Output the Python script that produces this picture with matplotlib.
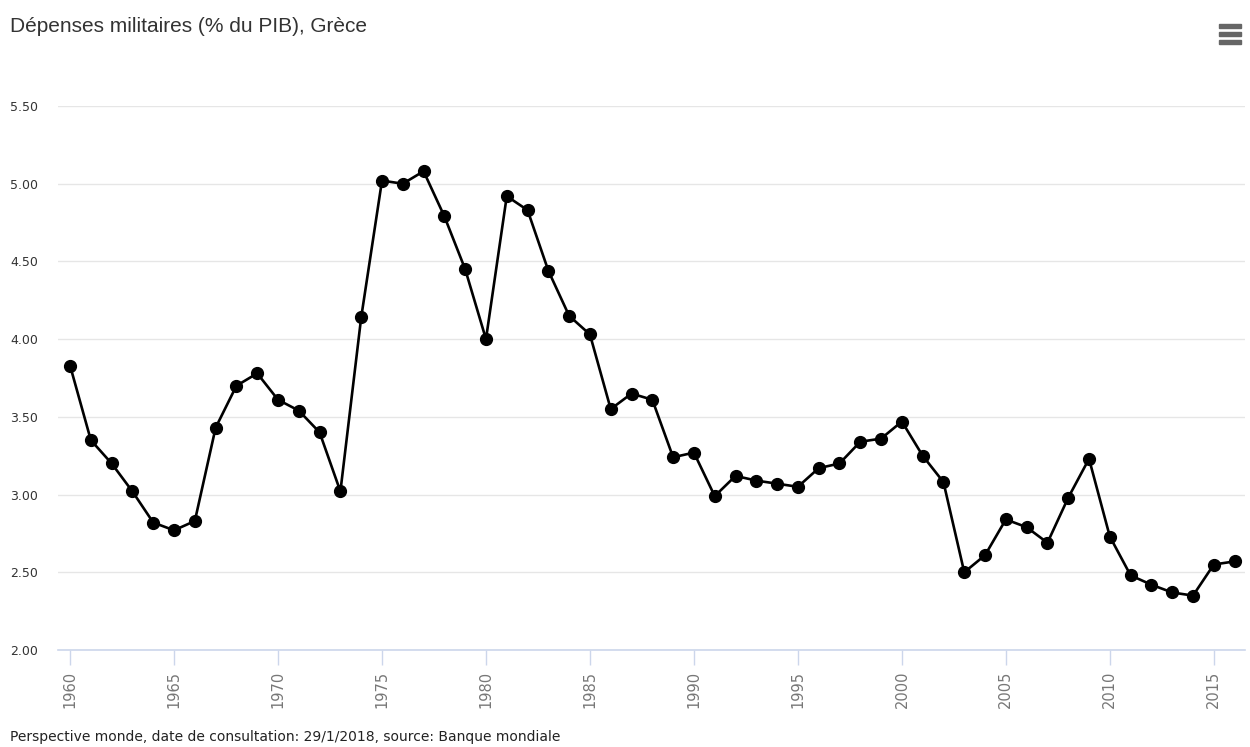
import matplotlib

matplotlib.use("Agg")
import matplotlib.pyplot as plt
from matplotlib.patches import Rectangle

# --- data ---
years = list(range(1960, 2017))
values = [
    3.83, 3.35, 3.20, 3.02, 2.82, 2.77, 2.83, 3.43, 3.70, 3.78,
    3.61, 3.54, 3.40, 3.02, 4.14, 5.02, 5.00, 5.08, 4.79, 4.45,
    4.00, 4.92, 4.83, 4.44, 4.15, 4.03, 3.55, 3.65, 3.61, 3.24,
    3.27, 2.99, 3.12, 3.09, 3.07, 3.05, 3.17, 3.20, 3.34, 3.36,
    3.47, 3.25, 3.08, 2.50, 2.61, 2.84, 2.79, 2.69, 2.98, 3.23,
    2.73, 2.48, 2.42, 2.37, 2.35, 2.55, 2.57,
]
y_ticks = [2.00, 2.50, 3.00, 3.50, 4.00, 4.50, 5.00, 5.50]
x_ticks = list(range(1960, 2016, 5))

TITLE = "Dépenses militaires (% du PIB), Grèce"
FOOTER = "Perspective monde, date de consultation: 29/1/2018, source: Banque mondiale"

W, H = 1250, 747
fig = plt.figure(figsize=(W / 100, H / 100), dpi=100)
ax = fig.add_axes([58 / W, 1 - 650 / H, (1245 - 58) / W, (650 - 106) / H])

ax.plot(years, values, color="black", lw=1.9, marker="o", ms=8.5,
        markerfacecolor="black", markeredgecolor="black", zorder=3)

ax.set_xlim(1959.42, 2016.5)
ax.set_ylim(2.0, 5.5)
ax.set_yticks(y_ticks)
ax.set_yticklabels([f"{v:.2f}" for v in y_ticks])
ax.set_xticks(x_ticks)
ax.set_xticklabels([str(v) for v in x_ticks], rotation=90, va="top")

ax.grid(axis="y", color="#e6e6e6", lw=1)
ax.set_axisbelow(True)
for side in ("top", "right", "left"):
    ax.spines[side].set_visible(False)
ax.spines["bottom"].set_color("#ccd6eb")
ax.spines["bottom"].set_linewidth(1.2)

ax.tick_params(axis="y", length=0, pad=34.5, labelsize=9, labelcolor="#333333")
for lbl in ax.get_yticklabels():
    lbl.set_horizontalalignment("left")
ax.tick_params(axis="x", length=11, width=1, color="#ccd6eb", pad=4,
               labelsize=10.5, labelcolor="#777777")

fig.text(10 / W, 1 - 27 / H, TITLE, fontsize=15, color="#333333",
         family="Liberation Sans", va="center", ha="left")
fig.text(10 / W, 1 - 737 / H, FOOTER, fontsize=10, color="#222222",
         va="center", ha="left")

# hamburger menu icon
for yy in (24, 32, 40):
    fig.patches.append(Rectangle((1219 / W, 1 - (yy + 4) / H), 22 / W, 4 / H,
                                 transform=fig.transFigure, color="#666666"))

fig.savefig("out.png", dpi=100)
